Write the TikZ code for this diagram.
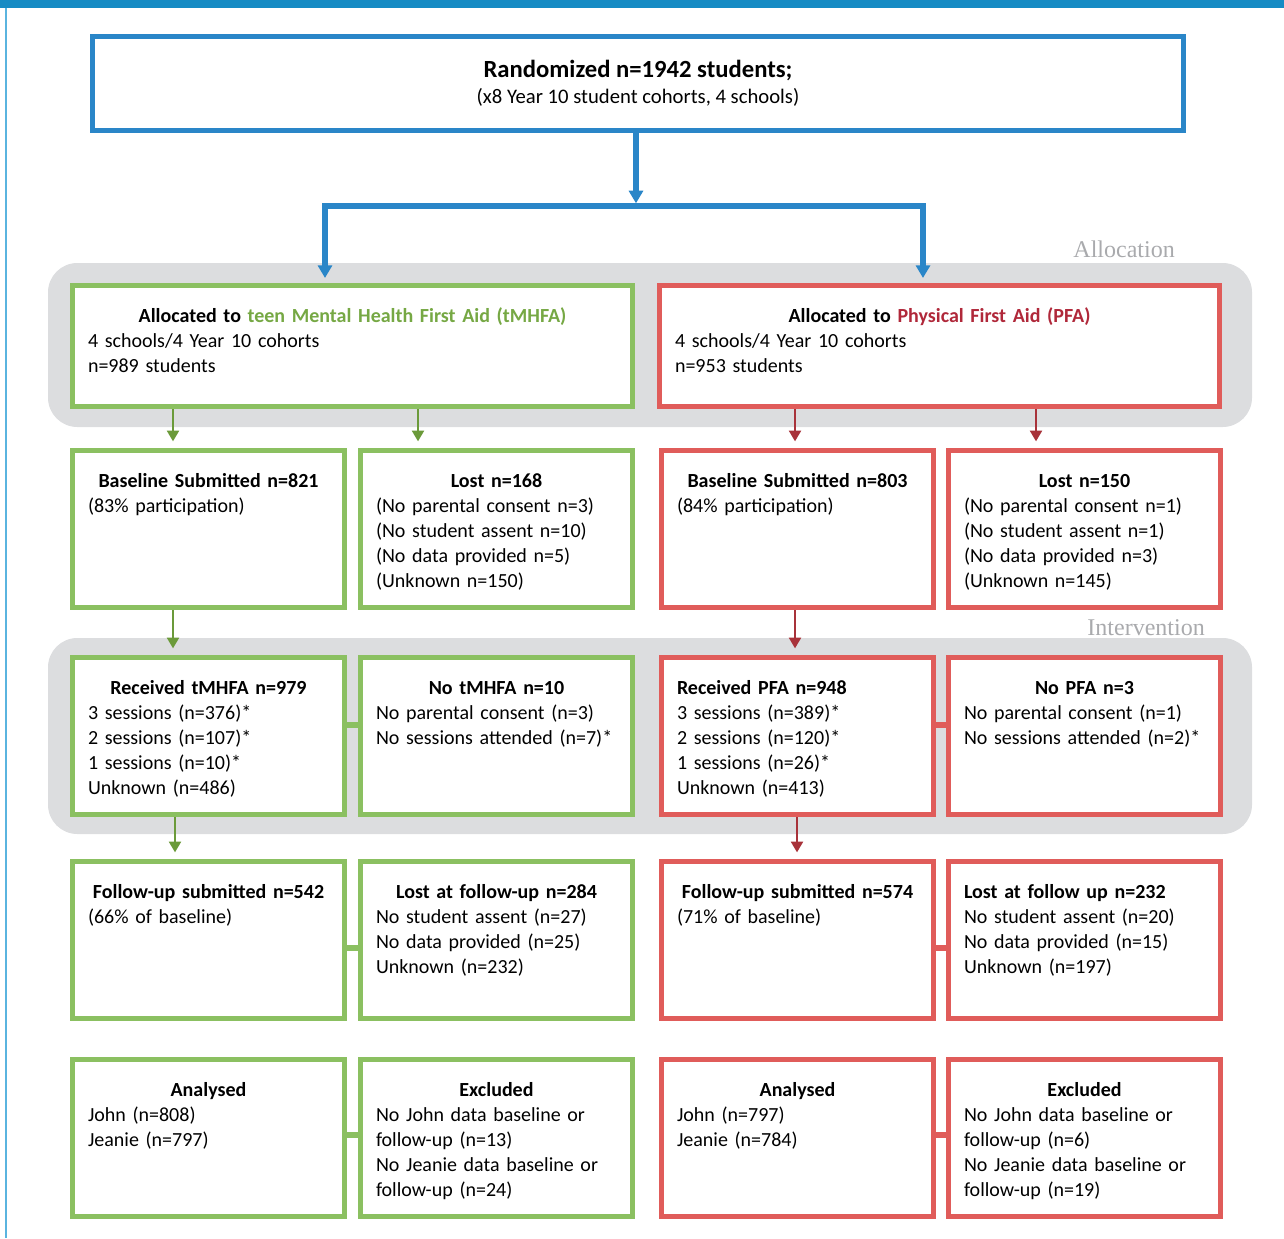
\documentclass[tikz,border=0pt]{standalone}
\usepackage{fontspec}
\setmainfont{Carlito}
\newfontfamily\phasefont{Liberation Serif}
\usepackage{xcolor}
\usepackage{tikz}
\usetikzlibrary{arrows.meta,positioning}

\definecolor{barblue}{HTML}{168BC4}
\definecolor{edgeblue}{HTML}{5AB4DF}
\definecolor{flowblue}{HTML}{2A86C8}
\definecolor{tgreen}{HTML}{8BC061}
\definecolor{tgreenarr}{HTML}{6B9A3A}
\definecolor{tgreentxt}{HTML}{76A844}
\definecolor{pred}{HTML}{E05C5A}
\definecolor{predarr}{HTML}{A8323A}
\definecolor{predtxt}{HTML}{B0283A}
\definecolor{bandgray}{HTML}{DCDDDF}
\definecolor{phasegray}{HTML}{A9AAAD}

\newcommand{\boxhead}[1]{\makebox[\linewidth]{\bfseries #1}\\}

\tikzset{
  flow box/.style = {draw, line width=4pt, inner xsep=11.5pt, inner ysep=0pt,
                     align=left, text height=27.25pt, fill=white,
                     font=\fontsize{15pt}{18.75pt}\selectfont},
  g box/.style    = {flow box, draw=tgreen},
  r box/.style    = {flow box, draw=pred},
  wide/.style     = {text width=396.75pt, text depth=63.25pt},
  narrow/.style   = {text width=180.75pt, text depth=90.25pt},
  top box/.style  = {draw=flowblue, line width=4pt, fill=white, align=center,
                     minimum width=818pt, minimum height=70.25pt,
                     font=\fontsize{15.5pt}{18.75pt}\selectfont},
  phase/.style    = {text=phasegray, font=\phasefont\fontsize{18pt}{20pt}\selectfont,
                     anchor=base east, inner sep=0pt},
  band/.style     = {fill=bandgray, rounded corners=22pt},
  b arr/.style    = {-{Triangle[width=10.5pt,length=9.5pt]}, line width=4pt, draw=flowblue},
  g arr/.style    = {-{Triangle[width=9pt,length=8pt]}, line width=1.5pt, draw=tgreenarr,
                     shorten >=5pt},
  r arr/.style    = {-{Triangle[width=9pt,length=8pt]}, line width=1.5pt, draw=predarr,
                     shorten >=5pt},
  g link/.style   = {line width=4pt, draw=tgreen},
  r link/.style   = {line width=4pt, draw=pred},
}

\begin{document}
\begin{tikzpicture}[x=0.75pt, y=-0.75pt]
  \useasboundingbox (0,0) rectangle (1284,1238);
  \fill[barblue] (0,0) rectangle (1284,8);
  \fill[edgeblue] (5,8) rectangle (7,1238);

  % phase bands
  \fill[band] (48,263) rectangle (1252,427);
  \fill[band] (48,638) rectangle (1252,834);
  \node[phase] (alloclbl) at (1175,257) {Allocation};
  \node[phase] (intlbl)   at (1205,635) {Intervention};

  \node[top box] (rand) at (638,83.5)
    {{\fontsize{18.5pt}{20pt}\selectfont\bfseries Randomized n=1942 students;}\\[1pt]
     (x8 Year 10 student cohorts, 4 schools)};

  % allocation
  \node[g box, wide, anchor=north west] (tmhfa) at (70,283)
    {\boxhead{Allocated to \textcolor{tgreentxt}{teen Mental Health First Aid (tMHFA)}}
     4 schools/4 Year 10 cohorts\\ n=989 students};
  \node[r box, wide, right=16.5pt of tmhfa] (pfa)
    {\boxhead{Allocated to \textcolor{predtxt}{Physical First Aid (PFA)}}
     4 schools/4 Year 10 cohorts\\ n=953 students};

  % baseline
  \node[g box, narrow, below=29.25pt of tmhfa.south west, anchor=north west] (base1)
    {\boxhead{Baseline Submitted n=821} (83\% participation)};
  \node[g box, narrow, right=8.25pt of base1] (lost1)
    {\boxhead{Lost n=168} (No parental consent n=3)\\ (No student assent n=10)\\
     (No data provided n=5)\\ (Unknown n=150)};
  \node[r box, narrow, right=18pt of lost1] (base2)
    {\boxhead{Baseline Submitted n=803} (84\% participation)};
  \node[r box, narrow, right=7.5pt of base2] (lost2)
    {\boxhead{Lost n=150} (No parental consent n=1)\\ (No student assent n=1)\\
     (No data provided n=3)\\ (Unknown n=145)};

  % intervention
  \node[g box, narrow, below=33.75pt of base1.south west, anchor=north west] (recv1)
    {\boxhead{Received tMHFA n=979} 3 sessions (n=376)*\\ 2 sessions (n=107)*\\
     1 sessions (n=10)*\\ Unknown (n=486)};
  \node[g box, narrow, right=8.25pt of recv1] (none1)
    {\boxhead{No tMHFA n=10} No parental consent (n=3)\\ No sessions attended (n=7)*};
  \node[r box, narrow, right=18pt of none1] (recv2)
    {\textbf{Received PFA n=948}\\ 3 sessions (n=389)*\\ 2 sessions (n=120)*\\
     1 sessions (n=26)*\\ Unknown (n=413)};
  \node[r box, narrow, right=7.5pt of recv2] (none2)
    {\boxhead{No PFA n=3} No parental consent (n=1)\\ No sessions attended (n=2)*};

  % follow-up
  \node[g box, narrow, below=31.5pt of recv1.south west, anchor=north west] (fup1)
    {\boxhead{Follow-up submitted n=542} (66\% of baseline)};
  \node[g box, narrow, right=8.25pt of fup1] (flost1)
    {\boxhead{Lost at follow-up n=284} No student assent (n=27)\\
     No data provided (n=25)\\ Unknown (n=232)};
  \node[r box, narrow, right=18pt of flost1] (fup2)
    {\boxhead{Follow-up submitted n=574} (71\% of baseline)};
  \node[r box, narrow, right=7.5pt of fup2] (flost2)
    {\textbf{Lost at follow up n=232}\\ No student assent (n=20)\\
     No data provided (n=15)\\ Unknown (n=197)};

  % analysis
  \node[g box, narrow, below=27pt of fup1.south west, anchor=north west] (ana1)
    {\boxhead{Analysed} John (n=808)\\ Jeanie (n=797)};
  \node[g box, narrow, right=8.25pt of ana1] (excl1)
    {\boxhead{Excluded} No John data baseline or\\ follow-up (n=13)\\
     No Jeanie data baseline or\\ follow-up (n=24)};
  \node[r box, narrow, right=18pt of excl1] (ana2)
    {\boxhead{Analysed} John (n=797)\\ Jeanie (n=784)};
  \node[r box, narrow, right=7.5pt of ana2] (excl2)
    {\boxhead{Excluded} No John data baseline or\\ follow-up (n=6)\\
     No Jeanie data baseline or\\ follow-up (n=19)};

  % randomisation arrows
  \coordinate (split) at (636,206);
  \draw[b arr, shorten >=2pt] (rand.south -| split) -- (split);
  \draw[b arr, shorten >=3.75pt] (split) -| (tmhfa.north -| 325,0);
  \draw[b arr, shorten >=3.75pt] (split) -| (pfa.north -| 923,0);

  \draw[g arr] (tmhfa.south -| 173,0) -- (base1.north -| 173,0);
  \draw[g arr] (tmhfa.south -| 418,0) -- (lost1.north -| 418,0);
  \draw[r arr] (pfa.south -| 795,0) -- (base2.north -| 795,0);
  \draw[r arr] (pfa.south -| 1036,0) -- (lost2.north -| 1036,0);
  \draw[g arr] (base1.south -| 173,0) -- (recv1.north -| 173,0);
  \draw[r arr] (base2.south -| 795,0) -- (recv2.north -| 795,0);
  \draw[g arr] (recv1.south -| 175,0) -- (fup1.north -| 175,0);
  \draw[r arr] (recv2.south -| 797,0) -- (fup2.north -| 797,0);

  % side links
  \draw[g link] (recv1.east |- 0,725) -- (none1.west |- 0,725);
  \draw[r link] (recv2.east |- 0,725) -- (none2.west |- 0,725);
  \draw[g link] (fup1.east |- 0,948) -- (flost1.west |- 0,948);
  \draw[r link] (fup2.east |- 0,948) -- (flost2.west |- 0,948);
  \draw[g link] (ana1.east |- 0,1135) -- (excl1.west |- 0,1135);
  \draw[r link] (ana2.east |- 0,1135) -- (excl2.west |- 0,1135);
\end{tikzpicture}
\end{document}
